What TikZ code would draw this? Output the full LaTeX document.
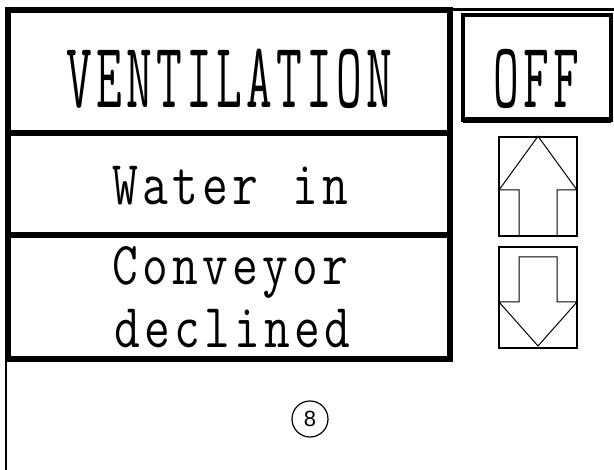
\documentclass[tikz,border=0pt]{standalone}
\usepackage{fontspec}
\newfontfamily\tagfont{Liberation Sans}
\usetikzlibrary{positioning}
% one fixed 30pt cell per letter
\newcommand\hmiSpaced[1]{\hmiLoop#1\relax}
\def\hmiLoop#1{\ifx\relax#1\else\makebox[30pt]{#1}\expandafter\hmiLoop\fi}
\tikzstyle{panel} = [rectangle, draw=black, line width=6pt, inner sep=0pt, outer sep=0pt, minimum width=442.5pt]
\tikzstyle{btnBox} = [rectangle, draw=black, line width=4pt, inner sep=0pt, outer sep=0pt, minimum width=148pt, minimum height=105pt]
\tikzstyle{keyBox} = [rectangle, draw=black, line width=1.5pt, inner sep=0pt, minimum width=78pt]
\tikzstyle{keyArrow} = [draw=black, line width=1pt, line join=miter]
\tikzstyle{hmiText} = [inner sep=0pt, anchor=base, font=\fontsize{50}{56}\ttfamily]
\tikzstyle{tagNode} = [circle, draw=black, line width=1.2pt, minimum size=36pt, inner sep=0pt, font=\tagfont\fontsize{22}{24}\selectfont]

\begin{document}
\begin{tikzpicture}[x=1pt, y=-1pt]
    \useasboundingbox (0,0) rectangle (614,470);
    % outer frame
    \draw [line width=3pt] (5,9.5) -- (614,9.5);
    \draw [line width=2pt] (6,9.5) -- (6,470);

    \node (vent) [panel, minimum height=123pt] at (228.75,72) {};
    \node (water) [panel, minimum height=101.5pt, below=0pt of vent] {};
    \node (conv) [panel, minimum height=124.5pt, below=0pt of water] {};
    \node (off) [btnBox] at (537,67.5) {};
    \draw [line width=6pt] (off.south west) -- (off.south east);

    \node (ventText) [hmiText] at (229,108) {\scalebox{1}[1.87]{\hmiSpaced{VENTILATION}}};
    \node (offText) [hmiText] at (536.5,108) {\scalebox{1}[1.87]{\hmiSpaced{OFF}}};
    \node (waterText) [hmiText] at (230.5,205) {\scalebox{1}[1.25]{\hmiSpaced{Water~in}}};
    \node (convText) [hmiText] at (230,285) {\scalebox{1}[1.22]{\hmiSpaced{Conveyor}}};
    \node (declText) [hmiText] at (232.5,348) {\scalebox{1}[1.25]{\hmiSpaced{declined}}};

    % up / down keys
    \node (up) [keyBox, minimum height=99pt] at (538,186.5) {};
    \node (down) [keyBox, minimum height=101pt] at (538,297.5) {};
    \draw [keyArrow] (519,236) -- (519,190) -- (499,190) -- (up.north) -- (577,190) -- (557,190) -- (557,236);
    \draw [keyArrow] (519,302) -- (519,257) -- (557,257) -- (557,302) -- (577,302) -- (538,346) -- (499,302) -- cycle;

    \node (tag) [tagNode] at (310,419) {8};
\end{tikzpicture}
\end{document}
